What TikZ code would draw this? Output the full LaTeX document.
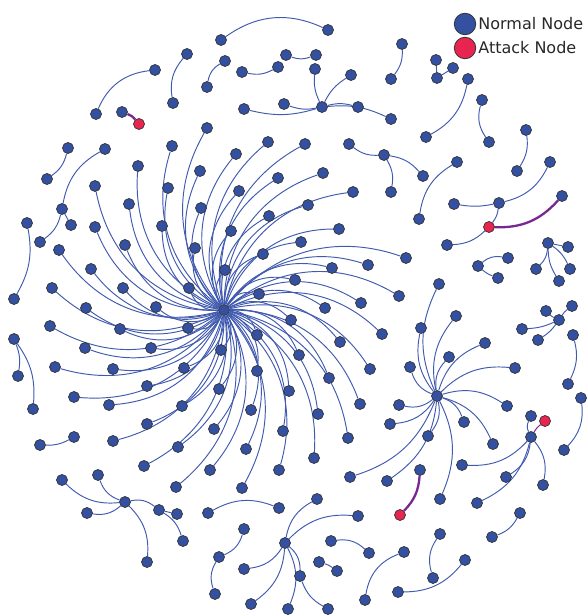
\documentclass[tikz,border=0pt]{standalone}
\usepackage{fontspec}
\setmainfont{DejaVu Sans}
\usetikzlibrary{positioning}
\definecolor{nodeblue}{RGB}{52,80,160}
\definecolor{linkblue}{RGB}{64,90,175}
\definecolor{attackred}{RGB}{232,36,80}
\definecolor{attackpurple}{RGB}{122,40,145}
\definecolor{legendtext}{RGB}{40,40,40}
\pgfdeclarelayer{back}
\pgfsetlayers{back,main}
\tikzset{
  normal/.style={circle, draw=black!80, line width=0.7pt, fill=nodeblue, minimum size=11pt, inner sep=0pt},
  attack/.style={normal, fill=attackred},
  link/.style={draw=linkblue, line width=0.95pt},
  badlink/.style={draw=attackpurple, line width=2.3pt},
  keynode/.style={circle, draw=black!80, line width=0.8pt, inner sep=0pt, minimum size=21.5pt},
  keytext/.style={font=\fontsize{16}{18}\selectfont, text=legendtext, inner sep=0pt}
}

\begin{document}
\begin{tikzpicture}[x=1pt, y=-1pt]
\useasboundingbox (0,0) rectangle (588,615);
% hubs
\node[normal] (h0) at (224,310) {};
\node[normal] (ha) at (322,107) {};
\node[normal] (hb) at (437,396) {};
\node[normal] (hc) at (531,437) {};
\node[normal] (hd) at (125,502) {};
\node[normal] (he) at (285,543) {};
\node[normal] (hf) at (548,243) {};
\node[normal] (hg) at (559,320) {};
% spokes of the big hub
\foreach \n/\x/\y in {s1/172/146, s2/138/166, s3/168/188, s4/129/204, s5/95/186, s6/200/171, s7/207/128, s8/236/154,
  s9/268/142, s10/305/144, s11/278/178, s12/323/173, s13/239/191, s14/353/192, s15/308/205, s16/201/208,
  s17/269/216, s18/231/231, s19/339/229, s20/301/242, s21/263/254, s22/332/268, s23/368/265, s24/225/270,
  s25/295/280, s26/259/294, s27/361/303, s28/325/308, s29/291/320, s30/382/334, s31/257/335, s32/340/342,
  s33/221/350, s34/299/355, s35/370/369, s36/257/371, s37/329/378, s38/219/389, s39/289/391, s40/360/404,
  s41/251/410, s42/318/414, s43/195/248, s44/406/258, s45/399/296, s46/162/226, s47/95/227, s48/125/245,
  s49/59/250, s50/91/269, s51/52/288, s52/123/288, s53/156/307, s54/189/288, s55/86/308, s56/50/326,
  s57/120/329, s58/188/328, s59/85/348, s60/151/348, s61/55/367, s62/113/369, s63/184/368, s64/74/397,
  s65/147/386, s66/109/405, s67/182/406, s68/214/429, s69/246/449, s70/210/470, s71/242/488, s72/283/431,
  s73/279/470, s74/314/458, s75/348/438, s76/147/424, s77/113/441, s78/178/447, s79/144/466, s80/176/487}
  \node[normal] (\n) at (\x,\y) {};
% small hubs
\foreach \n/\x/\y in {a1/315/69, a2/351/75, a3/284/104, a4/244/109, a5/358/107, a6/391/119,
  b1/439/284, b2/421/328, b3/456/316, b4/485/343, b5/449/357, b6/410/367, b7/515/368, b8/399/405,
  b9/507/406, b10/390/424, b11/428/436, b12/464/422, b13/493/444, b14/440/499, b15/387/481, b16/350/477,
  c1/531/416, c2/462/465, c3/506/477, c4/543/485, c5/477/503,
  d1/62/480, d2/98/475, d3/87/513, d4/159/510, d5/147/562, d6/177/514, d7/183/541,
  e1/317/499, e2/358/516, e3/244/569, e4/251/604, e5/288/609, e6/300/576, e7/328/609,
  f1/568/247, f2/536/269, f3/570/269, f4/559/281,
  g1/546/311, g2/572/306, g3/522/329, g4/538/340}
  \node[normal] (\n) at (\x,\y) {};
% pairs and chains
\foreach \n/\x/\y in {q1/221/40, q2/328/30, q3/225/61, q4/207/87, q5/242/72, q6/278/67, q7/286/55, q8/316/55,
  q9/187/54, q10/173/103, q11/155/70, q12/96/114, q13/122/112, q14/402/44, q15/391/79, q16/436/60,
  q17/437/78, q18/453/68, q19/468/79, q20/426/137, q21/482/100, q22/489/142, q23/526/130, q24/517/171,
  q25/349/144, q26/384/155, q27/391/192, q28/423/176, q29/457/162, q30/419/219, q31/550/162, q32/499/203,
  q33/454/204, q34/562/196, q35/447/245, q36/478/266, q37/508/258, q38/498/278, q39/573/335, q40/568/384,
  q41/581/398, q42/564/450, q43/420/470, q44/520/513, q45/492/537, q46/440/534, q47/433/578, q48/465/560,
  q49/398/592, q50/404/552, q51/365/600, q52/331/541, q53/369/553, q54/319/562, q55/337/571, q56/208/513,
  q57/279/508, q58/244/529, q59/219/557, q60/215/594, q61/40/445, q62/74/437, q63/27/223, q64/14/299,
  q65/14/339, q66/18/376, q67/33/409, q68/62/209, q69/71/225, q70/40/242, q71/105/149, q72/68/148,
  q73/47/179}
  \node[normal] (\n) at (\x,\y) {};
% attack nodes
\node[attack] (r1) at (139,124) {};
\node[attack] (r2) at (489,227) {};
\node[attack] (r3) at (400,515) {};
\node[attack] (r4) at (545,421) {};

\begin{pgfonlayer}{back}
\foreach \i in {1,...,80} \draw[link] (h0) to[bend left=35] (s\i);
\foreach \i in {1,...,6} \draw[link] (ha) to[bend left=15] (a\i);
\foreach \i in {1,...,16} \draw[link] (hb) to[bend left=25] (b\i);
\foreach \i in {1,...,5} \draw[link] (hc) to[bend left=25] (c\i);
\foreach \i in {1,...,5} \draw[link] (hd) to[bend left=25] (d\i);
\foreach \i in {1,...,6} \draw[link] (he) to[bend left=25] (e\i);
\foreach \i in {1,...,4} \draw[link] (hg) to[bend left=10] (g\i);
\foreach \a/\b/\c in {hf/f1/0, hf/f2/20, hf/f3/15, hf/f4/-15, d4/d6/0, d4/d7/20, e6/e7/-20,
  q1/q2/30, q3/q4/-25, q5/q6/-20, q7/q8/-20, q9/q10/-25, q11/q12/-30, q14/q15/20, q16/q17/0,
  q17/q18/0, q19/q20/25, q21/q22/-25, q23/q24/20, q25/q26/-20, q26/q27/20, q26/q28/20, q29/q30/-25,
  q31/q32/25, q32/q33/10, r2/q32/-15, r2/q35/20, q36/q37/25, q36/q38/-10, q39/q40/20, q41/q42/25,
  q44/q45/20, q46/q47/-25, q48/q49/25, q50/q51/-30, q52/q53/25, q54/q55/10, q56/q57/25, q58/q59/25,
  q59/q60/-25, q61/q62/-15, q63/q64/20, q65/q66/15, q65/q67/20, q68/q69/0, q68/q70/20, q68/q71/25,
  q72/q73/20}
  \draw[link] (\a) to[bend left=\c] (\b);
% attack links
\draw[badlink] (q13) to[bend left=15] (r1);
\draw[badlink] (q34) to[bend left=25] (r2);
\draw[badlink] (q43) to[bend left=20] (r3);
\draw[attackpurple, line width=1pt] (hc) to[bend left=10] (r4);
\end{pgfonlayer}

% legend
\node[keynode, fill=nodeblue] (keynormal) at (465,24) {};
\node[keytext, right=2pt of keynormal] (labnormal) {Normal Node};
\node[keynode, fill=attackred] (keyattack) at (465,48) {};
\node[keytext, right=2pt of keyattack] (labattack) {Attack Node};
\end{tikzpicture}
\end{document}
